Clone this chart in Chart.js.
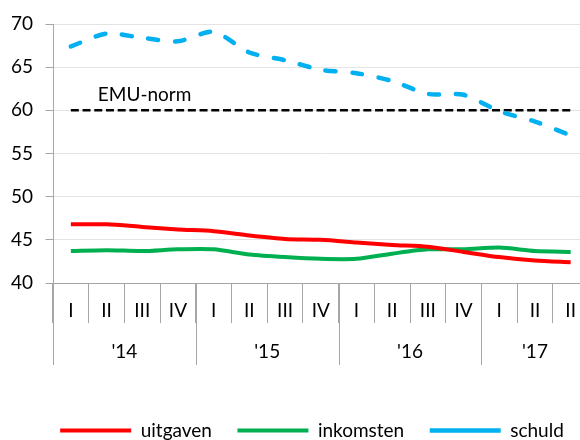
<!DOCTYPE html>
<html>
<head>
<meta charset="utf-8">
<script src="https://cdn.jsdelivr.net/npm/chart.js@4"></script>
<style>
  html, body { margin: 0; padding: 0; background: #fff; overflow: hidden; }
  #wrap { width: 624px; height: 450px; }
</style>
</head>
<body>
<div id="wrap"><canvas id="myChart" width="624" height="450"></canvas></div>
<script>
// categorieen (kwartalen) en jaren
const kwartalen = ['I', 'II', 'III', 'IV', 'I', 'II', 'III', 'IV', 'I', 'II', 'III', 'IV', 'I', 'II', 'II'];
const jaren = ["'14", "'15", "'16", "'17"];
const kwartalenPerJaar = [4, 4, 4, 3];

// reeksen (% bbp)
const uitgaven  = [46.8, 46.8, 46.5, 46.2, 46.0, 45.5, 45.1, 45.0, 44.7, 44.4, 44.2, 43.6, 43.0, 42.6, 42.4];
const inkomsten = [43.7, 43.8, 43.7, 43.9, 43.9, 43.3, 43.0, 42.8, 42.8, 43.4, 43.9, 43.9, 44.1, 43.7, 43.6];
const schuld    = [67.4, 68.9, 68.4, 68.0, 69.1, 66.7, 65.8, 64.7, 64.3, 63.4, 61.9, 61.8, 59.9, 58.7, 57.1];
const emuNorm   = [60, 60, 60, 60, 60, 60, 60, 60, 60, 60, 60, 60, 60, 60, 60];

// y-as
const yMin = 40;
const yMax = 70;
const yStap = 5;

const ctx = document.getElementById('myChart');
const asKleur = '#a6a6a6';

Chart.defaults.font.family = 'Lato';
Chart.defaults.font.size = 19;
Chart.defaults.color = '#000';

/* jaren onder de kwartalen + label EMU-norm */
const jaarAs = {
  id: 'jaarAs',
  afterDraw(chart) {
    const x = chart.scales.x;
    const y = chart.scales.y;
    const c = chart.ctx;
    const top = x.top;
    let start = 0;
    c.save();
    c.strokeStyle = asKleur;
    c.lineWidth = 1;
    c.fillStyle = '#000';
    c.font = '19px Lato';
    c.textAlign = 'center';
    c.textBaseline = 'middle';
    jaren.forEach((jaar, j) => {
      const eind = start + kwartalenPerJaar[j] - 1;
      let links = x.left;
      if (start > 0) {
        links = (x.getPixelForValue(start - 1) + x.getPixelForValue(start)) / 2;
      }
      links = Math.round(links) + 0.5;
      c.beginPath();
      c.moveTo(links, top);
      c.lineTo(links, top + 82);
      c.stroke();
      c.fillText(jaar, (x.getPixelForValue(start) + x.getPixelForValue(eind)) / 2, top + 69);
      start = eind + 1;
    });
    c.textAlign = 'left';
    c.textBaseline = 'alphabetic';
    c.fillText('EMU-norm', x.getPixelForValue(0) + 27, y.getPixelForValue(60) - 9.5);
    c.restore();
  }
};

const config = {
  type: 'line',
  data: {
    labels: kwartalen,
    datasets: [{
      label: 'uitgaven',
      data: uitgaven,
      borderColor: '#ff0000',
      borderWidth: 4
    }, {
      label: 'inkomsten',
      data: inkomsten,
      borderColor: '#00b050',
      borderWidth: 4
    }, {
      label: 'schuld',
      data: schuld,
      borderColor: '#00b0f0',
      borderWidth: 4.5,
      borderDash: [10, 16.7],
      borderCapStyle: 'round'
    }, {
      label: 'EMU-norm',
      data: emuNorm,
      borderColor: '#000',
      borderWidth: 2.5,
      borderDash: [8, 3.7],
      tension: 0
    }]
  },
  options: {
    responsive: false,
    animation: false,
    layout: {
      padding: { left: 0, right: 0, top: 24, bottom: 0 }
    },
    elements: {
      point: { radius: 0 },
      line: { tension: 0.25, fill: false }
    },
    scales: {
      x: {
        offset: true,
        grid: {
          display: true,
          drawOnChartArea: false,
          offset: true,
          tickLength: 40,
          color: asKleur
        },
        border: { color: asKleur },
        ticks: {
          autoSkip: false,
          maxRotation: 0,
          padding: -23.4
        },
        afterFit: function (scale) {
          scale.height = 112.5;
        }
      },
      y: {
        min: yMin,
        max: yMax,
        ticks: {
          stepSize: yStap,
          padding: 12.5
        },
        grid: {
          color: '#e3e3e3',
          tickColor: asKleur,
          tickLength: 7.5
        },
        border: { color: asKleur },
        afterFit: function (scale) {
          scale.width = 53;
        }
      },
      // lege rechteras, alleen voor de ruimte rechts
      rechts: {
        position: 'right',
        display: true,
        grid: { display: false },
        border: { display: false },
        ticks: { display: false },
        afterFit: function (scale) {
          scale.width = 35.5;
        }
      }
    },
    plugins: {
      tooltip: { enabled: false },
      legend: {
        position: 'bottom',
        labels: {
          usePointStyle: true,
          pointStyle: 'line',
          pointStyleWidth: 71,
          padding: 25.5,
          filter: item => item.datasetIndex < 3
        }
      }
    }
  },
  plugins: [jaarAs]
};

new Chart(ctx, config);
</script>
</body>
</html>
